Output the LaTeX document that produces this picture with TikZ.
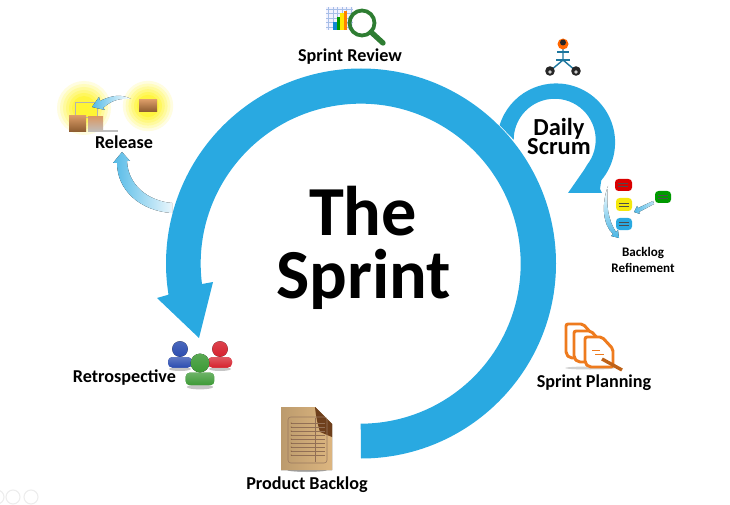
\documentclass[tikz,border=0pt]{standalone}
\usepackage{fontspec}
\setmainfont{Carlito}
\usepackage{xcolor}
\usepackage{tikz}
\usetikzlibrary{positioning}
\definecolor{sprintblue}{HTML}{29A9E1}
\definecolor{boxlight}{HTML}{D99A66}
\definecolor{boxdark}{HTML}{8A5A2E}
\definecolor{pagetan}{HTML}{DDB680}
\definecolor{pagedark}{HTML}{6E3F1C}
\definecolor{lensgreen}{HTML}{2E7D32}
\definecolor{planorange}{HTML}{EE7B1E}
\definecolor{peopleblue}{HTML}{2B4DB0}
\definecolor{peoplered}{HTML}{D6222E}
\definecolor{peoplegreen}{HTML}{3C9A35}
\newcommand{\person}[4]{% x, y of head centre, scale, colour
	\fill[black!45, opacity=0.5] (#1,#2+#3*2) ellipse ({#3*1.1} and {#3*0.2});
	\fill[#4, rounded corners=3pt, top color=#4!75!white, bottom color=#4] (#1-#3*1.2,#2+#3*1.85) -- (#1-#3*1.2,#2+#3*0.8) -- (#1+#3*1.2,#2+#3*0.8) -- (#1+#3*1.2,#2+#3*1.85) -- cycle;
	\fill[top color=#4!85!white, bottom color=#4] (#1,#2) circle (#3*0.78);
}
\newcommand{\glowspot}[3]{% x, y, radius
	\foreach \gs in {1,0.9,...,0.3} {
		\fill[yellow!\fpeval{round((1-\gs)*125,0)}!white] (#1,#2) circle (#3*\gs);
	}
}
\tikzset{
	label13/.style={font=\bfseries\fontsize{12.9}{14}\selectfont, inner sep=0pt, anchor=base},
	bigtext/.style={font=\bfseries\fontsize{50}{50}\selectfont, inner sep=0pt, anchor=base},
	dailytext/.style={font=\bfseries\fontsize{17.4}{18}\selectfont, inner sep=0pt, anchor=base},
	smalltext/.style={font=\bfseries\fontsize{9.3}{11.4}\selectfont, align=center, inner sep=0pt},
	crate/.style={top color=boxlight, bottom color=boxdark},
	note/.style={rounded corners=2.5pt},
	notemark/.style={black!70, line width=0.3pt},
	fadearrow/.style={left color=sprintblue!80, right color=sprintblue!10},
	sheet/.style={draw=planorange, line width=2.1pt, fill=white, rounded corners=1.5pt}
}
\begin{document}
\begin{tikzpicture}[x=0.025cm, y=0.025cm, yscale=-1]
	\useasboundingbox (0,0) rectangle (730,505);
	\coordinate (c) at (361,263.5);
	\coordinate (d) at (558,143);

	%Release
	\glowspot{148}{106}{28}
	\glowspot{84}{108}{30}
	\fill[black!50, opacity=0.5] (92,130) rectangle (118,132);
	\draw[black!30, fill=yellow!80!white, line width=0.4pt] (75,102) rectangle (97,117);
	\fill[crate] (139,100) rectangle (157,112);
	\fill[crate] (69,116) rectangle (86,132);
	\fill[top color=boxlight, bottom color=black!25] (88,117) rectangle (103,132);
	\fill[left color=sprintblue!80, right color=white] (92,107) -- (99,97) -- (100,101) .. controls (112,95) and (122,94) .. (131,99) .. controls (120,98) and (112,100) .. (103,108) -- (105,110) -- cycle;
	\fill[fadearrow] (122,152) -- (130,161) -- (127,161) .. controls (128,185) and (148,201) .. (172,203) -- (172,213) .. controls (140,211) and (117,190) .. (117,163) -- (113,163) -- cycle;

	%Daily Scrum arrow and the big arrow
	\fill[sprintblue] (d) ++(-163:61) arc[start angle=-163, end angle=40, radius=59] -- (600,189) -- (602,193) -- (568,193) -- (584,170) -- (587,165) arc[start angle=38, end angle=-180, radius=41] -- cycle;
	\fill[sprintblue] (c) ++(90:195) arc[start angle=90, end angle=-189.2, radius=195] -- (157,298) -- (199,338) -- (213,282) -- (202,284) arc[start angle=-187.3, end angle=90, radius=160] -- cycle;

	\node[bigtext] (the) at (363,235) {The};
	\node[bigtext] (sprint) at (363.5,298) {Sprint};
	\node[dailytext] (daily) at (559,136) {Daily};
	\node[dailytext] (scrum) at (559,154.5) {Scrum};

	%Sprint Review
	\node[label13] (review) at (350,61.5) {Sprint Review};
	\fill[blue!5] (326,7) rectangle (353,30);
	\draw[cyan!50!blue!35, line width=0.4pt, step=4.5] (326,7) grid (353,30);
	\fill[cyan!70!blue] (333,22) rectangle (337,30);
	\fill[green!60!black] (337,17) rectangle (340,30);
	\fill[yellow!90!orange] (340,13) rectangle (343.5,30);
	\fill[orange] (343.5,11) rectangle (347,30);
	\draw[lensgreen, line width=2.7pt] (362,23) circle (12.5);
	\draw[lensgreen, line width=3.8pt, line cap=round] (371,32) -- (383,43);

	%Daily Scrum icon
	\draw[sprintblue!70!black, line width=1pt] (563,48) -- (563,60) -- (550,71);
	\draw[sprintblue!70!black, line width=1pt] (563,60) -- (576,71);
	\draw[sprintblue!70!black, line width=1pt] (557,52) -- (569,52);
	\draw[sprintblue!70!black, line width=1pt] (556,60) -- (570,60);
	\fill[orange!80!red] (563,44) circle (5.5);
	\fill[black!85] (563,42.5) circle (3);
	\fill[black!85] (550,71) circle (4.8);
	\fill[black!85] (576,71) circle (4.8);
	\fill[white!80!black] (550,72) circle (1.8);
	\fill[white!80!black] (576,72) circle (1.8);

	%Backlog Refinement
	\fill[note, red!85!black] (615,179) rectangle (632,191);
	\fill[note, yellow!95!black] (616,198) rectangle (632,211);
	\fill[note, sprintblue] (616,218) rectangle (632,230);
	\fill[note, green!60!black] (655,191) rectangle (671,203);
	\foreach \nx/\ny in {623/185, 624/204.5, 624/224, 663/197} {
		\draw[notemark] (\nx-5,\ny-1.5) -- (\nx+5,\ny-1.5);
		\draw[notemark] (\nx-5,\ny+1.5) -- (\nx+5,\ny+1.5);
	}
	\fill[top color=white, bottom color=sprintblue!85] (608,186) .. controls (601,205) and (603,225) .. (613,234) -- (611,236) -- (619,238) -- (618,230) -- (616,232) .. controls (608,220) and (606,205) .. (608,186) -- cycle;
	\fill[left color=sprintblue!80, right color=white!70!sprintblue] (634,212) -- (637,206) -- (638,208) -- (653,201) -- (654,204) -- (639,212) -- (640,214) -- cycle;
	\node[smalltext] (refine) at (643,260) {Backlog\\Refinement};

	%Sprint Planning
	\node[label13] (planning) at (594,387.5) {Sprint Planning};
	\fill[black!45, opacity=0.4] (590,368) ellipse (25 and 1.5);
	\draw[sheet] (566,324) -- (583,324) -- (592,334) -- (592,358) -- (570,358) -- (566,354) -- cycle;
	\draw[sheet] (574,331) -- (591,331) -- (600,341) -- (600,362) -- (578,362) -- (574,358) -- cycle;
	\draw[sheet] (585,337) -- (602,337) -- (613,349) -- (613,367) -- (589,367) -- (585,363) -- cycle;
	\draw[planorange, line width=0.7pt] (592,350) -- (600,350);
	\draw[planorange, line width=0.7pt] (595,354) -- (604,354);
	\draw[planorange!80!black, line width=2.4pt] (602,359) -- (622,370);

	%Product Backlog
	\node[label13] (backlog) at (307,489) {Product Backlog};
	\fill[black!60, opacity=0.5] (307,470) ellipse (20 and 2);
	\fill[left color=pagetan!85!black, right color=pagetan] (281,407) -- (315,407) -- (332,424) -- (332,470) -- (281,470) -- cycle;
	\fill[pagedark] (315,407) -- (332,424) -- (332,437) -- (320,432) .. controls (318,425) and (316,418) .. (315,407) -- cycle;
	\draw[pagedark!70, line width=0.4pt, rounded corners=2pt] (288,417) rectangle (327,463);
	\foreach \ly in {423,427,...,455} {
		\draw[pagedark!75, line width=0.35pt] (291,\ly) -- (325,\ly);
		\fill[pagedark] (291,\ly) circle (0.5);
	}
	\draw[pagedark!75, line width=0.35pt] (315,418) -- (315,462);

	%Retrospective
	\person{180}{349}{10}{peopleblue}
	\person{220}{349}{10}{peoplered}
	\person{200}{363}{12}{peoplegreen}
	\node[label13] (retro) at (124.5,382) {Retrospective};

	\node[label13] (release) at (124,148.5) {Release};

	%Buttons in the corner
	\foreach \bx in {-3,13,31} {
		\draw[black!7, line width=0.8pt] (\bx,497) circle (7);
	}
\end{tikzpicture}
\end{document}
